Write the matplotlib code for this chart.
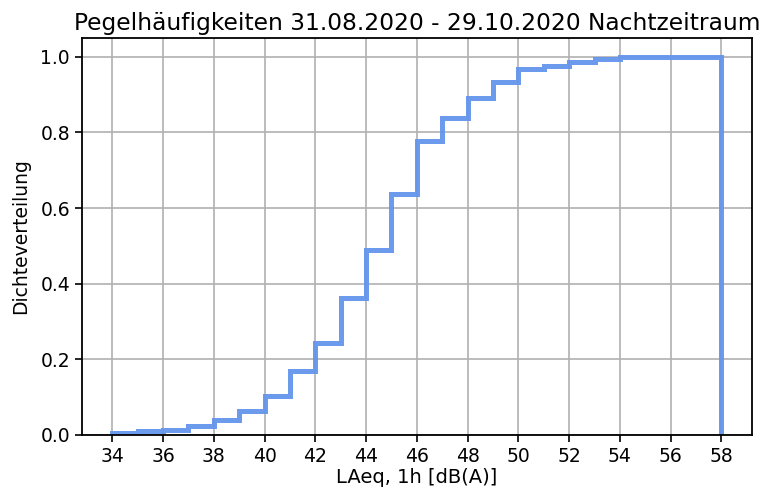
import numpy as np
import matplotlib
matplotlib.use("Agg")
import matplotlib.pyplot as plt

# bin edges in dB(A) and cumulative share at the end of each bin
bin_edges = list(range(34, 59))
cumulative = [0.005, 0.009, 0.013, 0.024, 0.039, 0.064, 0.102, 0.169, 0.244,
              0.363, 0.489, 0.637, 0.777, 0.839, 0.890, 0.933, 0.967, 0.977,
              0.987, 0.994, 1.0, 1.0, 1.0, 1.0]
x_ticks = list(range(34, 59, 2))

title = "Pegelhäufigkeiten 31.08.2020 - 29.10.2020 Nachtzeitraum"
x_label = "LAeq, 1h [dB(A)]"
y_label = "Dichteverteilung"

centers = np.array(bin_edges[:-1]) + 0.5
increments = np.diff(np.concatenate([[0.0], cumulative]))

fig = plt.figure(figsize=(7.72, 4.93), dpi=100)
ax = fig.add_axes([0.106, 0.118, 0.868, 0.805])

ax.hist(centers, bins=bin_edges, weights=increments, cumulative=True,
        histtype="step", color="cornflowerblue", linewidth=3.6, alpha=0.95)

ax.set_xticks(x_ticks)
ax.grid(True, color="#b0b0b0", linewidth=1.2)
ax.set_axisbelow(True)
# the 0.8 line comes out lighter in the original
for tick in ax.yaxis.get_major_ticks():
    if abs(tick.get_loc() - 0.8) < 1e-6:
        tick.gridline.set_color("#e0e0e0")
ax.tick_params(labelsize=13.5, width=1.2, length=5)
for s in ax.spines.values():
    s.set_linewidth(1.3)

ax.set_title(title, fontsize=16.8)
ax.set_xlabel(x_label, fontsize=14, labelpad=2)
ax.set_ylabel(y_label, fontsize=13.5, labelpad=7)

fig.savefig("out.png", dpi=100)
